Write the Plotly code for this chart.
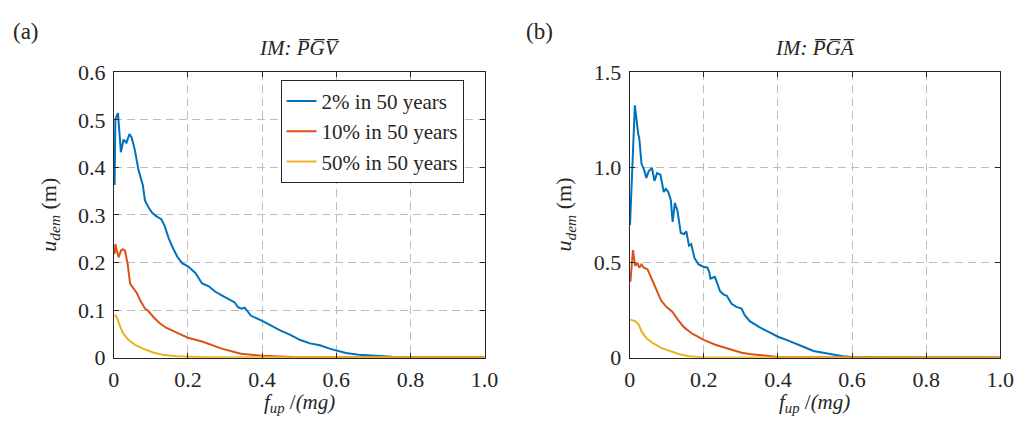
import plotly.graph_objects as go

# ---------------- data ----------------
legend_names = ["2% in 50 years", "10% in 50 years", "50% in 50 years"]
colors = ["#0072BD", "#D95319", "#EDB120"]

# Panel (a): IM = PGV
a_blue_x = [0.002, 0.004, 0.011, 0.019, 0.026, 0.034, 0.042, 0.048, 0.057, 0.066, 0.078, 0.084,
            0.095, 0.104, 0.115, 0.128, 0.137, 0.148, 0.159, 0.172, 0.185, 0.200, 0.220, 0.238,
            0.256, 0.273, 0.291, 0.317, 0.326, 0.335, 0.344, 0.353, 0.370, 0.399, 0.423, 0.450,
            0.476, 0.503, 0.529, 0.556, 0.582, 0.601, 0.626, 0.661, 0.697, 0.750, 0.800, 0.900, 1.000]
a_blue_y = [0.363, 0.501, 0.514, 0.432, 0.458, 0.452, 0.470, 0.463, 0.435, 0.396, 0.363, 0.330,
            0.314, 0.304, 0.297, 0.291, 0.277, 0.251, 0.231, 0.211, 0.198, 0.192, 0.178, 0.156,
            0.150, 0.139, 0.131, 0.119, 0.116, 0.106, 0.103, 0.105, 0.088, 0.078, 0.068, 0.057,
            0.048, 0.037, 0.030, 0.026, 0.019, 0.015, 0.010, 0.006, 0.004, 0.002, 0.001, 0.001, 0.001]

a_orange_x = [0.002, 0.004, 0.008, 0.013, 0.019, 0.024, 0.030, 0.037, 0.044, 0.053, 0.062, 0.072,
              0.084, 0.093, 0.106, 0.123, 0.141, 0.168, 0.200, 0.238, 0.291, 0.335, 0.344, 0.399,
              0.450, 0.500, 0.600, 0.800, 1.000]
a_orange_y = [0.218, 0.239, 0.225, 0.211, 0.225, 0.228, 0.225, 0.198, 0.155, 0.146, 0.136, 0.119,
              0.103, 0.098, 0.086, 0.073, 0.063, 0.053, 0.042, 0.034, 0.019, 0.010, 0.008, 0.004,
              0.002, 0.001, 0.001, 0.001, 0.001]

a_yellow_x = [0.002, 0.008, 0.018, 0.026, 0.040, 0.057, 0.079, 0.106, 0.132, 0.168, 0.200, 0.250,
              0.400, 0.600, 0.800, 1.000]
a_yellow_y = [0.090, 0.085, 0.063, 0.050, 0.037, 0.027, 0.019, 0.011, 0.006, 0.003, 0.002, 0.001,
              0.001, 0.001, 0.001, 0.001]

# Panel (b): IM = PGA
b_blue_x = [0.001, 0.014, 0.023, 0.026, 0.032, 0.039, 0.045, 0.051, 0.060, 0.067, 0.074, 0.083,
            0.092, 0.098, 0.104, 0.111, 0.116, 0.122, 0.129, 0.138, 0.147, 0.153, 0.160, 0.166,
            0.175, 0.186, 0.199, 0.210, 0.215, 0.218, 0.230, 0.244, 0.253, 0.262, 0.275, 0.288,
            0.302, 0.310, 0.324, 0.350, 0.375, 0.400, 0.425, 0.450, 0.475, 0.496, 0.525, 0.550,
            0.575, 0.600, 0.650, 0.800, 1.000]
b_blue_y = [0.697, 1.326, 1.177, 1.152, 1.019, 0.987, 0.945, 0.978, 0.998, 0.929, 0.970, 0.962,
            0.871, 0.887, 0.871, 0.829, 0.714, 0.813, 0.771, 0.655, 0.650, 0.664, 0.589, 0.597,
            0.523, 0.490, 0.478, 0.473, 0.448, 0.416, 0.425, 0.349, 0.333, 0.325, 0.283, 0.267,
            0.258, 0.225, 0.192, 0.160, 0.135, 0.110, 0.092, 0.070, 0.052, 0.035, 0.024, 0.016,
            0.008, 0.004, 0.002, 0.001, 0.001]

b_orange_x = [0.002, 0.009, 0.015, 0.021, 0.026, 0.032, 0.038, 0.048, 0.059, 0.072, 0.085, 0.099,
              0.115, 0.130, 0.147, 0.169, 0.200, 0.231, 0.266, 0.302, 0.328, 0.360, 0.399, 0.450,
              0.600, 0.800, 1.000]
b_orange_y = [0.399, 0.565, 0.482, 0.498, 0.473, 0.490, 0.473, 0.465, 0.416, 0.357, 0.300, 0.267,
              0.242, 0.200, 0.159, 0.126, 0.093, 0.068, 0.046, 0.026, 0.018, 0.010, 0.004, 0.002,
              0.001, 0.001, 0.001]

b_yellow_x = [0.002, 0.015, 0.024, 0.033, 0.046, 0.063, 0.085, 0.108, 0.134, 0.160, 0.200, 0.300,
              0.500, 0.800, 1.000]
b_yellow_y = [0.200, 0.192, 0.175, 0.134, 0.101, 0.076, 0.051, 0.035, 0.018, 0.007, 0.001, 0.001,
              0.001, 0.001, 0.001]

x_ticks = [0, 0.2, 0.4, 0.6, 0.8, 1.0]
x_tick_text = ["0", "0.2", "0.4", "0.6", "0.8", "1.0"]
a_y_ticks = [0, 0.1, 0.2, 0.3, 0.4, 0.5, 0.6]
a_y_tick_text = ["0", "0.1", "0.2", "0.3", "0.4", "0.5", "0.6"]
b_y_ticks = [0, 0.5, 1.0, 1.5]
b_y_tick_text = ["0", "0.5", "1.0", "1.5"]

# ---------------- figure ----------------
FONT = "Liberation Serif"
fig = go.Figure()

panel_a = [(a_blue_x, a_blue_y), (a_orange_x, a_orange_y), (a_yellow_x, a_yellow_y)]
panel_b = [(b_blue_x, b_blue_y), (b_orange_x, b_orange_y), (b_yellow_x, b_yellow_y)]

for i, (xs, ys) in enumerate(panel_a):
    fig.add_trace(go.Scatter(x=xs, y=ys, mode="lines", name=legend_names[i],
                             line=dict(color=colors[i], width=2), xaxis="x", yaxis="y"))
for i, (xs, ys) in enumerate(panel_b):
    fig.add_trace(go.Scatter(x=xs, y=ys, mode="lines", name=legend_names[i], showlegend=False,
                             line=dict(color=colors[i], width=2), xaxis="x2", yaxis="y2"))

W, H = 1030, 430
ax_common = dict(showline=True, linecolor="#262626", linewidth=1, mirror="ticks",
                 ticks="inside", ticklen=5, tickcolor="#262626", tickwidth=1,
                 showgrid=True, gridcolor="#bdbdbd", gridwidth=1, griddash="8px,5px",
                 zeroline=False, tickfont=dict(family=FONT, size=22, color="#262626"))

y_top = 1 - 64 / H
y_bot = 1 - 367 / H

fig.update_layout(
    width=W, height=H,
    margin=dict(l=0, r=0, t=0, b=0),
    paper_bgcolor="white", plot_bgcolor="white",
    font=dict(family=FONT, size=21, color="#262626"),
    xaxis=dict(domain=[110 / W, 488 / W], range=[0, 1], tickvals=x_ticks, ticktext=x_tick_text,
               anchor="y", ticklabelstandoff=2, **ax_common),
    yaxis=dict(domain=[y_bot, y_top], range=[0, 0.6], tickvals=a_y_ticks, ticktext=a_y_tick_text,
               anchor="x", ticklabelstandoff=3, **ax_common),
    xaxis2=dict(domain=[636 / W, 1014 / W], range=[0, 1], tickvals=x_ticks, ticktext=x_tick_text,
                anchor="y2", ticklabelstandoff=2, **ax_common),
    yaxis2=dict(domain=[y_bot, y_top], range=[0, 1.5], tickvals=b_y_ticks, ticktext=b_y_tick_text,
                anchor="x2", ticklabelstandoff=3, **ax_common),
    legend=dict(x=280 / W, y=1 - 72 / H, xanchor="left", yanchor="top",
                bordercolor="#262626", borderwidth=1, bgcolor="white",
                font=dict(family=FONT, size=21, color="#262626"),
                itemwidth=30, tracegroupgap=0),
    showlegend=True,
)

ann = []
def txt(x, y, s, size=21, angle=0, xanchor="center", yanchor="middle"):
    ann.append(dict(x=x / W, y=1 - y / H, xref="paper", yref="paper", text=s, showarrow=False,
                    textangle=angle, xanchor=xanchor, yanchor=yanchor, borderpad=0,
                    font=dict(family=FONT, size=size, color="#262626")))

txt(6, 21, "(a)", size=23, xanchor="left")
txt(529, 21, "(b)", size=23, xanchor="left")
txt(299, 38, "<i>IM: P\u0305G\u0305V\u0305</i>", size=21)
txt(825, 38, "<i>IM: P\u0305G\u0305A\u0305</i>", size=21)
xlabel = "<i>f<sub>up</sub></i> /<i>(mg)</i>"
txt(299, 430, xlabel, size=21, yanchor="bottom")
txt(825, 430, xlabel, size=21, yanchor="bottom")
ylabel = "<i>u<sub>dem</sub></i> (m)"
txt(44, 215, ylabel, size=22, angle=-90)
txt(570, 215, ylabel, size=22, angle=-90)
fig.update_layout(annotations=ann)

fig.write_html("out.html")
